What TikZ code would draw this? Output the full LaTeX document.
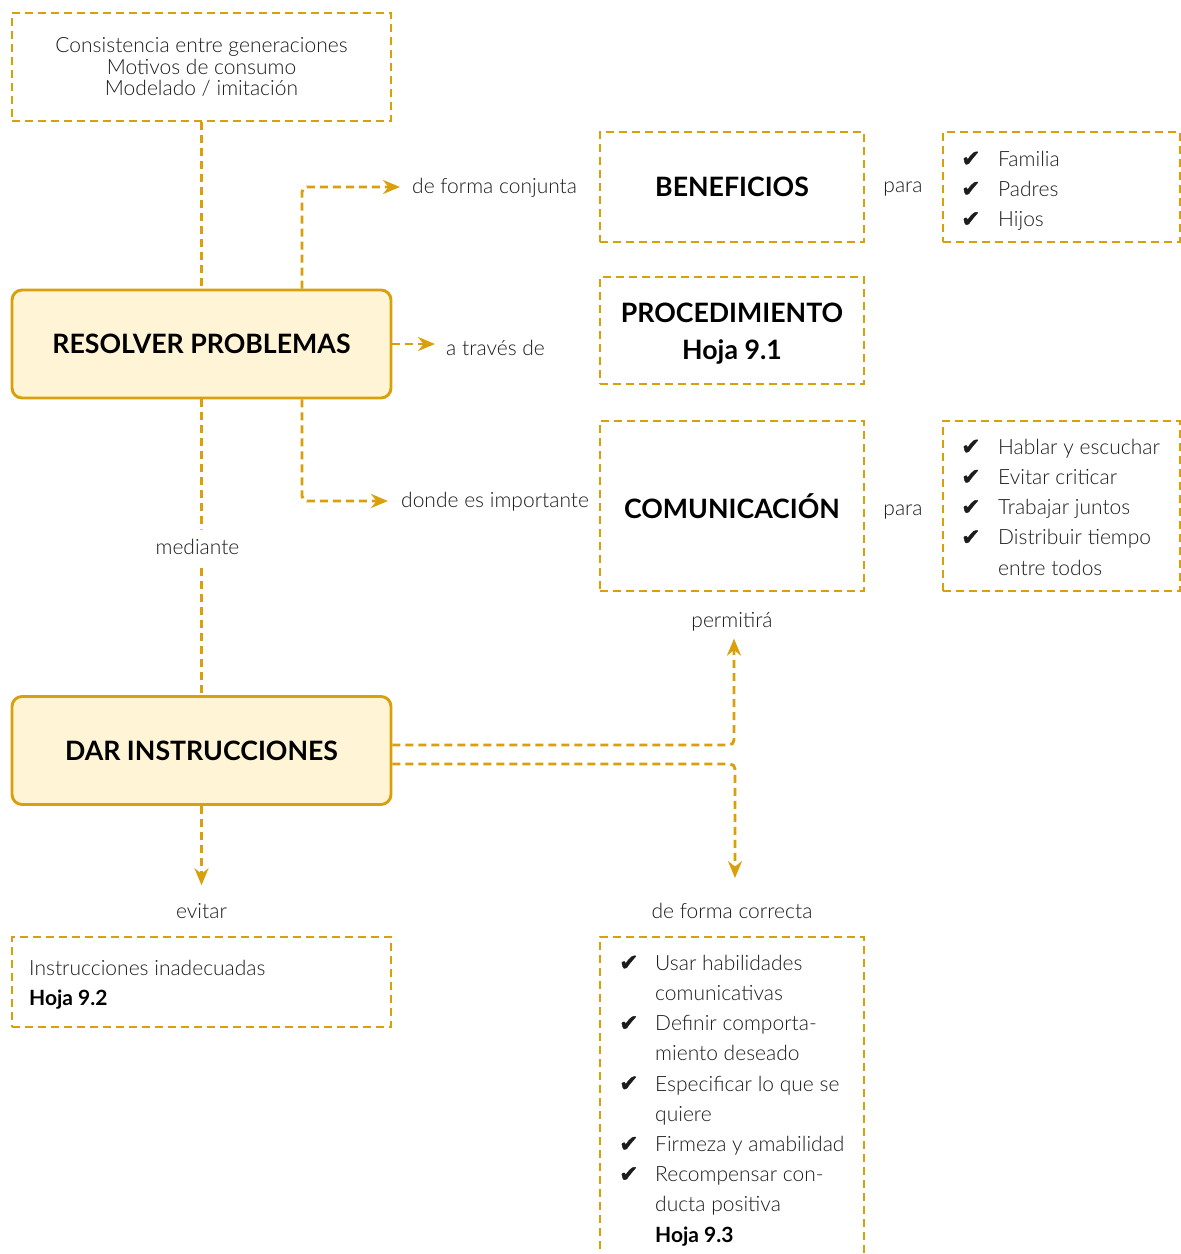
\documentclass[tikz,border=0pt]{standalone}
\usepackage{fontspec}
\setmainfont{Lato Light}[BoldFont={Lato Bold}]
\newfontfamily\symfont{DejaVu Sans}[FakeBold=1.6]
\usetikzlibrary{arrows.meta,calc}

\definecolor{gold}{RGB}{218,160,12}
\definecolor{cream}{RGB}{255,245,214}
\definecolor{ink}{RGB}{28,28,28}

\newcommand\chk{{\symfont\bfseries\fontsize{23}{23}\selectfont\char"2714}}
\newcommand\bodyfont{\fontsize{21}{30.2}\selectfont}
\newcommand\titlefont{\fontsize{26.7}{37}\selectfont\bfseries}

\tikzset{
  dbox/.style={draw=gold, line width=2.9pt, dash pattern=on 8pt off 5pt,
    minimum width=#1, inner sep=0pt},
  mainbox/.style={draw=gold, fill=cream, line width=2.9pt, rounded corners=10pt,
    minimum width=379pt, minimum height=108pt, inner sep=0pt, font=\titlefont, text=black},
  link/.style={draw=gold, line width=2.9pt, dash pattern=on 8pt off 5pt, rounded corners=5pt},
  arr/.style={link, -{Stealth[length=17pt,width=14pt]}},
  lbl/.style={font=\bodyfont, text=ink, inner sep=0pt},
  listbox/.style={font=\bodyfont, text=ink, inner sep=0pt, anchor=north west},
}

\begin{document}
\begin{tikzpicture}[x=1pt,y=-1pt]
\useasboundingbox[fill=white] (0,0) rectangle (1181,1254);

% upper column: background factors and the problem-solving box
\node[dbox=379pt, minimum height=108pt, align=center, text=ink,
      font=\fontsize{21}{21.5}\selectfont] (gen) at (201.5,67)
  {Consistencia entre generaciones\\Motivos de consumo\\Modelado / imitación};
\node[mainbox] (res) at (201.5,344) {RESOLVER PROBLEMAS};
\node[mainbox] (dar) at (201.5,750.5) {DAR INSTRUCCIONES};

% right column: title boxes
\node[dbox=264pt, minimum height=110pt, font=\titlefont, text=black] (ben) at (732,187) {BENEFICIOS};
\node[dbox=264pt, minimum height=107pt] (proc) at (732,330.5) {};
\node[font=\titlefont, text=black, align=center, inner sep=0pt] (proctext) at (732,333.5)
  {PROCEDIMIENTO\\Hoja 9.1};
\node[dbox=264pt, minimum height=170pt, font=\titlefont, text=black] (com) at (732,506) {COMUNICACIÓN};

% checklists on the far right
\node[dbox=237pt, minimum height=110pt] (benbox) at (1061.5,187) {};
\node[listbox] (benlist) at (961,145) {%
  \begin{tabular}{@{}p{37pt}@{}l@{}}
  \chk & Familia\\ \chk & Padres\\ \chk & Hijos
  \end{tabular}};
\node[dbox=237pt, minimum height=170pt] (combox) at (1061.5,506) {};
\node[listbox] (comlist) at (961,433) {%
  \begin{tabular}{@{}p{37pt}@{}l@{}}
  \chk & Hablar y escuchar\\ \chk & Evitar criticar\\ \chk & Trabajar juntos\\
  \chk & Distribuir tiempo\\ & entre todos
  \end{tabular}};

% connector labels
\node[lbl, anchor=west] (conj) at (412,188) {de forma conjunta};
\node[lbl] (para1) at (903,189) {para};
\node[lbl, anchor=west] (trav) at (446,348) {a través de};
\node[lbl, anchor=west] (donde) at (401,502) {donde es importante};
\node[lbl] (para2) at (903,512) {para};
\node[lbl] (perm) at (732,622) {permitirá};
\node[lbl] (evit) at (201.5,911) {evitar};
\node[lbl] (corr) at (732,911) {de forma correcta};

% lower boxes
\node[dbox=379pt, minimum height=90pt] (inst) at (201.5,982) {};
\node[listbox] (insttext) at (29,954) {%
  \begin{tabular}{@{}l@{}}
  Instrucciones inadecuadas\\ \textcolor{black}{\textbf{Hoja 9.2}}
  \end{tabular}};
\coordinate (okL) at (600,1262);
\coordinate (okR) at (864,1262);
\draw[link, rounded corners=0pt] (okL) |- (732,937) -| (okR);
\node[listbox] (oklist) at (619,949) {%
  \begin{tabular}{@{}p{36pt}@{}l@{}}
  \chk & Usar habilidades\\ & comunicativas\\
  \chk & Definir comporta-\\ & miento deseado\\
  \chk & Especificar lo que se\\ & quiere\\
  \chk & Firmeza y amabilidad\\
  \chk & Recompensar con-\\ & ducta positiva\\
  & \textcolor{black}{\textbf{Hoja 9.3}}
  \end{tabular}};

% connectors
\draw[link] (gen.south) -- (res.north);
\draw[arr] ([xshift=100.5pt]res.north) |- ([xshift=-12pt,yshift=1pt]conj.west);
\draw[arr] (res.east) -- ([xshift=-11pt]trav.west |- res.east);
\draw[arr] ([xshift=100.5pt]res.south) |- ([xshift=-13pt,yshift=1pt]donde.west);
\draw[link] (res.south) -- node[lbl, fill=white, inner ysep=10pt, xshift=-4pt] (med) {mediante} (dar.north);
\draw[arr] ([yshift=5.5pt]dar.east) -| ([xshift=2pt,yshift=-7pt]perm.south);
\draw[arr] ([yshift=-13.5pt]dar.east) -| ([xshift=3pt,yshift=25pt]corr.north);
\draw[arr] (dar.south) -- ([yshift=18pt]evit.north);
\end{tikzpicture}
\end{document}
